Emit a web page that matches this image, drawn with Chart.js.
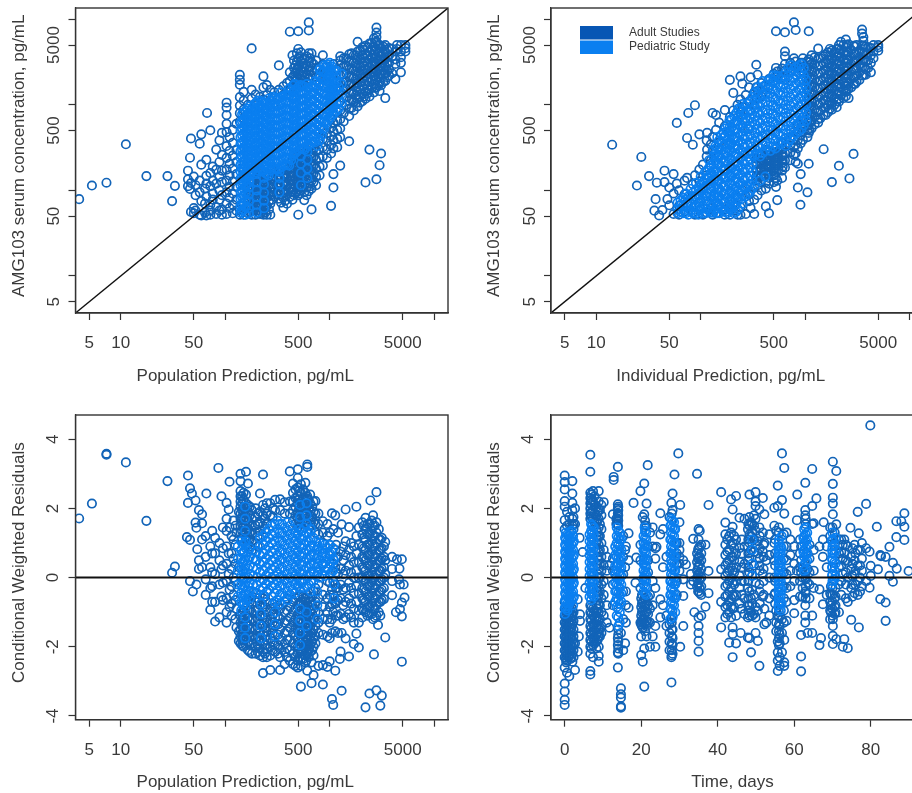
<!DOCTYPE html>
<html>
<head>
<meta charset="utf-8">
<style>
html, body { margin: 0; padding: 0; background: #fff; overflow: hidden; width: 912px; height: 793px; }
canvas { position: absolute; filter: blur(0.4px); }
</style>
<script src="https://cdn.jsdelivr.net/npm/chart.js@4/dist/chart.umd.min.js"></script>
</head>
<body>
<canvas id="c1" width="456" height="396" style="left:0;top:0"></canvas>
<canvas id="c2" width="480" height="396" style="left:456px;top:0"></canvas>
<canvas id="c3" width="456" height="397" style="left:0;top:396px"></canvas>
<canvas id="c4" width="480" height="397" style="left:456px;top:396px"></canvas>
<script>
// each row is [x, y, y, y ...]
const popObsAdult = [
[4,79],[5.3,114],[7.3,123],[11.2,346],[17.6,147],[28,147],[33,113],[31,75],
[44,170,135,112],[46,241,104],[47,404,122,56],[50,145,62,54],[52,115,88,58],[57,352,130,95,52],[59,452,200,75,51],[64,105,70,55],[66,228,148,120,85,51],[67,804],[72,505,160,112,68,58,52],[76,190,130,92,78],[82,300,175,120,64,53],[88,385,215,145,100,78,58],[93,470,260,170,125,88,60,52],[103,1060,930,760,600,480,330,240,175,130,95,70,53],[110,420,290,205,150,110,82,62],[118,510,360,255,180,128,92,68,54],[128,600,300,215,155,110,78,58],
[138,2240,1960,1720,1230,980,800,640,52,60],[150,1420,1120,880,700,52],[165,1000,780,620,54,66,80,100],[179,4570,1500,1180,52,62,75,92,110,130],[195,1320,1000,52,64,78,95,115,140],[215,1240,950,53,66,82,100,120,150],[232,2150,1600,1150,52,60,72,90,110,135],[250,1700,1300,52,66,82,100,125],[270,1500,1130,52,70,88,108,135],[295,1400,1050,85,105,130,160],[326,2890,1500,1200,80,98,120,150],[360,1650,1300,63,82,100,125,155],[390,1800,1450,70,90,115,140,175],[415,7160,2400,1900,1500,84,105,130,160],[440,3800,2100,1650,78,96,120,145,180,220],[470,2900,2400,1900,92,112,135,165,200,245],[500,7250,4500,3500,2800,2250,1800,52,88,108,130,160,195,240],[530,4100,3200,2500,2000,100,125,150,185,225,270],[570,3500,2800,2200,1750,77,95,118,145,175,215,260],[630,9200,7400,4000,3200,2500,2000,98,120,150,185,225,280],[670,4000,3100,2500,60,105,130,160,200,250,310],[740,3300,2700,2100,1700,115,145,180,230,290],[800,2800,2200,1800,150,190,240,300,380],[860,3800,2950,2350,195,250,320,400,500],[940,2800,2200,1750,240,300,380,470,590],[1030,66,1500,1250,1050,270,340,430,540,680],[1085,108,155,3000,310,390,490,620],[1180,2600,1900,320,400,510,650,820],[1260,195,2900,3700,3300,2200,1800,1450,420,530,680,860,1100],[1360,3500,2800,2300,1850,1500,1200,640,800],[1535,375,3900,3200,2600,2100,1700,1380,1120,740,900],[1700,3800,3100,2500,2050,1650,1350,1080,860],[1850,5450,4200,3400,2750,2250,1800,1450,1180,960],[2050,4700,3800,3100,2500,2050,1650,1350,1100],[2200,124,4900,3900,3200,2600,2150,1750,1420,1180],[2400,300,5200,4200,3400,2800,2300,1850,1500,1250],[2650,6000,4800,3900,3200,2600,2150,1750,1400],[2800,135,8000,7000,6200,5500,4500,3600,3000,2450,2000,1600],[3000,197,5000,4100,3400,2800,2300,1850,1450],[3100,270,4600,3700,3050,2500,2050,1700],[3400,1200,5000,4200,3400,2800,2300,1900],[3700,4600,3800,3100,2600,2200],[3950,2340,4500,3700],[4250,2000,3400,3000,4200],[4400,5000,4500],[4800,2400,3100,3600,4200,5000],[5300,4200,4600,5000],
[172,56,68,85,105,125],[185,58,70,85,105,125,150],[205,58,72,90,110,135,165],[223,56,68,85,108,128,160],[242,55,66,80,98,120,145],[262,60,75,92,115,148],[282,78,95,118,145,175],[310,90,112,140,170],[342,72,90,110,135,165],[375,76,95,122,148,185],[425,95,118,148,180,215],[455,88,108,132,160,198,240,1750,2200,2700,3300],[485,98,122,148,182,222,268,2000,2600,3200,4000],[515,92,115,140,172,210,255,300,1850,2350,2900,3700],[550,108,135,165,200,245,292,1900,2450,3050],[600,88,108,132,162,198,240,295,1850,2300,2950,3700],[650,112,140,172,212,260,325,2200,2800,3500],[700,125,155,195,245,305,2400,3000],
[1440,1000,1250,1530,1880,2320,2880,3500],[1620,920,1150,1420,1760,2150,2650,3250,4000],[1780,1050,1300,1610,2000,2480,3050,3800],[1950,1060,1250,1500,1850,2270,2800,3450,4300],[2130,1250,1530,1880,2320,2850,3500,4400],[2320,1370,1680,2080,2550,3100,3800,4700],[2520,1600,1950,2420,2950,3550,4350,5300],[2720,1580,1950,2380,2900,3550,4300,5300],[2900,1700,2150,2650,3250,4000,4900],[3250,1850,2250,2750,3300,4000,4800],[3550,2100,2500,3000,3600,4400]
];
const popObsPed = [
[140,55,66,80,96,115,138,166,200,240,290,350,420,505,610],[150,60,72,87,105,126,152,183,220,265,320,385,465,560,680,820],[162,118,140,170,205,245,295,355,430,520,630,760,900],[176,160,195,235,285,340,410,495,600,720,870],[190,155,185,225,270,330,400,480,580,700,840,1020],[205,170,205,250,300,360,435,525,635,765,925,1120],[222,175,212,255,310,375,450,540,650,790,950,1100],[240,160,195,235,285,345,415,500,605,730,880,1050],[260,150,182,220,265,320,385,465,560,680,820,990,1180],[285,190,230,280,335,405,490,590,710,860,1030,1240],[310,175,212,255,310,375,450,545,655,790,955,1150],[340,185,225,270,325,395,475,575,695,840,1010,1220,1400],[375,200,240,290,350,420,510,615,740,895,1080,1300],[410,195,235,285,345,415,500,600,725,875,1060,1280,1550],[445,255,305,370,445,540,650,785,950,1150,1390,1680],[480,280,340,410,495,600,720,870,1050,1270,1540],[525,310,375,455,550,660,800,965,1170,1410,1700],[575,300,360,435,525,635,765,925,1120,1350,1630],[630,340,410,495,600,720,870,1050,1270,1540],[690,370,445,540,650,785,950,1150,1390,1680],[760,330,400,485,585,705,850,1030,1240,1500,1850],[840,440,530,640,775,935,1130,1365,1650,2000,2450],[920,610,735,890,1075,1300,1570,1900,2300,2800],[1000,700,845,1020,1230,1490,1800,2180,2650,3100],[1100,800,965,1170,1410,1700,2060,2500],[1220,900,1090,1320,1600],
[145,58,70,84,100,120,145,175,210,250,300,360,440,530,640,780],[157,52,64,78,94,112,130,160,192,232,280,335,405,490,590,710,860],[170,125,150,180,218,262,315,380,460,555,670,810,960],[183,170,205,248,298,360,432,522,630,762,920],[198,162,195,237,285,345,418,505,610,735,885,1060],[214,185,225,275,330,395,475,575,695,835,1010],[231,168,200,245,298,358,432,520,628,755,910,1080],[250,155,188,228,275,332,400,482,582,705,850,1020],[272,170,205,250,300,362,438,528,635,770,925,1110],[298,182,220,268,322,390,470,568,685,825,995,1195],[325,180,218,262,318,385,462,558,675,815,982,1185],[357,192,232,280,338,408,492,595,718,868,1045,1260],[392,198,238,288,348,418,505,608,732,885,1070,1290],[428,225,270,328,395,478,575,692,838,1012,1225,1480],[462,268,322,390,470,570,685,828,1000,1210,1465,1750],[502,295,358,432,522,630,760,918,1110,1340,1620],[550,305,368,445,538,648,782,945,1145,1380,1665],[602,320,385,465,562,678,818,988,1195,1445,1750],[660,355,428,518,625,752,910,1100,1330,1610],[725,365,422,512,618,745,900,1090,1315,1590,1900],[800,385,465,562,680,820,990,1198,1445,1750,2120,2600],[880,525,632,765,925,1115,1350,1630,1975,2400,2900],[960,655,790,955,1150,1395,1685,2040,2470,2950],[1050,750,905,1095,1320,1595,1930,2340,2800],[1160,850,1030,1240,1505,1820,2200,2500],
[168,54,62,74,90,108],[200,55,68,84,100,125],[235,62,76,94,118,140],[330,95,118,140,165],[530,115,160,205,250],[610,140,180,230,285],[1300,1050,1350,1750,2300]
];
const indObsAdult = [
[14.2,342],[24.5,114],[27,246],[32,147],[36,58],[37,79],[38,123],[40,51],[43,59],[45,170,125],[48,79],[50,67,108],[55,155,92,53],[59,615,120],[62,100,66,52],[70,130,90,57],[74,410,140,72],[76,804],[84,342,118,55],[88,990,150,85,52],[97,452,175,128,65],[105,200,105,52],[114,385,250,150,85,55],[115,470,300],[125,345,225,62],[130,804,420,290,52],[140,760,510,72,54],[150,620,360,260,85],[170,870,560,430,60,52],[190,1960,720,500,340,52,68],[205,1380,860,400,58],[225,1000,640,52,82],[240,2150,1150,820,64,52],[250,1770,950,100,70],[270,1300,700,53,85,105],[290,1600,1100,520,90,75],[300,2100,850,62],[325,53,1400,1000,110,78],[340,2940,1600,1200,145,170,200,235,130],[350,2250,1450,88,115],[380,1800,1250,150,180,215,260,100],[420,65,1700,1350,155,185,225,125,105],[450,54,2000,1600,165,195,235,280,140,120],[500,2300,1900,150,180,215,260,125],[525,7250,2700,2100,165,195,235,280,140,110],[540,77,2450,195,225,265,130],[600,2650,2100,170,210,250,300,360,140],[640,7050,4200,3700,3000,2500,2000,185,225,275,330,400],[720,3100,2500,225,275,335,410],[780,9200,3500,2800,260,320,390,480],[810,7500,3200,2450,215,270,340],[850,108,205,2800,310,390,480,590],[905,155,2700,3100,355,440,540,660],[950,3500,3100,2500,2000,390,480,590,720],[900,68],[1050,95,3200,2700,2200,1800,1480,420,510,620,760],[1080,7250,205,3400,2850,2350,1900,1550,1250,1020,470,570,700,860],[1150,3800,3000,2450,2000,1650,1320,1080,530,640,780,950],[1330,4550,3500,2850,2300,1900,1550,1250,1000,820,620,680],[1500,3700,3050,2500,2050,1680,1380,1120,920,760,303],[1650,4100,3350,2750,2250,1850,1520,1230,1000,820],[1800,125,4300,3500,2850,2350,1920,1570,1280,1040,880],[2000,4500,3650,3000,2450,2000,1640,1340,1100,940],[2100,194,5000,4000,3250,2650,2150,1750,1430,1180],[2200,5450,4400,3600,2900,2350,1950,1600,1300],[2450,5800,1260,4700,3800,3100,2500,2050,1680,1420],[2600,1200,5100,4100,3350,2700,2200,1800,1550],[2650,138],[2900,267,4900,4000,3200,2600,2100,1750],[3100,1850,5000,4100,3300,2700,2200],[3500,7600,6800,4900,4100,3300,2750,2200],[3600,6200,5600],[3800,4800,3900,3200,2600,2250],[4250,2400,4600,3800,3100],[4500,5000,4200,3500],[5000,5000,4300,4700],
[345,150,175,205,235,268],[375,145,170,200,232],[405,150,178,208,245],[435,160,188,220,258,300],[470,165,195,228,268],[500,170,200,235,275],[555,175,205,240,285],[610,190,222,262,310],
[1100,500,620,760,930,1140,1400,1720,2100,2600,3150],[1230,590,720,880,1080,1320,1620,1980,2450,3000,3600],[1400,700,860,1050,1280,1570,1920,2350,2900,3500],[1570,760,930,1140,1400,1710,2100,2580,3150,3900],[1720,900,1100,1350,1650,2020,2480,3050,3750,4500],[1900,1000,1220,1500,1820,2230,2750,3350,4100],[2100,1090,1330,1630,2000,2450,3000,3650,4500],[2320,1200,1480,1820,2220,2720,3350,4100,5000],[2500,1500,1860,2280,2800,3400,4200,5000],[2750,1600,2000,2450,3000,3650,4400],[3000,1750,2150,2650,3250,3950,4800],[3300,1950,2400,2950,3600,4300],[3650,2250,2750,3350,4000,4900],[4000,2700,3300,4000,4700]
];
const indObsPed = [
[60,60,72,54],[68,66,54,82],[76,58,70,85,52],[85,64,78,95,54],[95,58,72,88,108,52],[105,66,82,100,125,54],[115,60,75,92,115,140,170],[125,55,68,85,105,130,160,195],[138,60,76,94,118,145,180,225,270,330],[150,54,68,85,105,130,160,200,245,300,385],[165,58,72,90,112,140,175,215,265,330,410,470],[180,54,66,82,102,128,160,200,250,310,385,480,580],[198,60,76,95,118,148,185,230,285,355,440,550,680],[218,56,70,88,110,138,172,215,270,335,420,520,650,800],[240,78,98,122,152,190,238,295,370,460,575,720,900],[265,85,106,132,165,205,258,320,400,500,625,780,970],[295,95,118,148,185,232,290,362,450,565,705,880,1100],[330,115,255,300,375,470,585,730,910,1140,1400],[370,130,250,315,395,490,615,765,955,1190,1500],[415,145,290,360,450,560,700,875,1090,1360,1700],[465,290,360,450,560,700,875,1090,1360,1700,2000],[520,310,385,480,600,750,935,1170,1460,1820,2200],[580,345,430,540,670,835,1040,1300,1625,2000],[650,330,410,510,640,800,1000,1250,1560,1950,2400],[730,400,500,625,780,975,1220,1520,1900,2400,2900],[820,470,585,730,910,1140,1420,1780,2200,2750],[920,520,650,810,1010,1260,1570,1960,2450,3000],[1020,650,810,1010,1260,1570,1960],
[64,56,68,76],[72,54,64,78,92],[80,58,70,86,104],[90,54,66,82,102,122],[100,60,76,96,118,145],[110,54,70,88,110,135,165],[120,58,72,94,118,148,185,225],[132,55,68,86,108,132,165,205,250,300],[144,54,66,84,105,130,165,205,255,320,420],[158,60,78,96,120,150,190,235,295,365,450],[172,56,72,90,115,142,178,222,280,350,435,530],[188,60,74,92,118,145,182,228,285,350,435,540,660],[208,54,66,82,102,128,160,200,250,312,390,490,610,740],[228,60,78,98,125,155,195,245,305,380,475,590,730,900],[252,70,88,112,140,175,220,275,345,430,535,670,840,1020],[280,90,112,140,175,218,272,340,425,530,660,825,1030],[312,105,132,165,205,260,325,405,505,630,790,985,1230],[350,268,335,420,525,655,820,1025,1280,1600],[392,272,340,425,530,665,830,1040,1300,1620,1900],[440,325,405,505,630,790,985,1230,1530,1900],[492,325,405,510,635,790,985,1230,1540,1920,2200],[550,365,455,570,710,890,1110,1385,1730,2150],[615,370,460,575,720,900,1125,1400,1750,2200],[690,365,455,570,715,895,1115,1390,1740,2170,2700],[775,435,545,680,850,1060,1325,1660,2070,2600],[870,490,615,770,960,1200,1500,1870,2340,2850],[970,580,725,905,1130,1410,1760,2200,2700]
];
const popResAdult = [
[4,1.71],[5.3,2.14],[7.3,3.58,3.55],[11.2,3.33],[17.6,1.64],[28,2.79],[31,.14],[33,.32],[43,1.17],[44,2.95,2.16],[46,2.58,1.09,-.1],[48,2.43],[49,-.4],[52,2.23,1.59],[53,1.44,-.2],[54,.82],[56,1.95,.5,.25],[60,1.83,1.57,1.1,.3],[65,-.05,-.5,.6,1.2],[66,2.43],[72,-.93,.9,.3,-.3],[80,-1.27,-.7,.1,.7,1.15],[86,3.17],[88,-1.15,-.2,.5,1],[92,2.35,.25,-.55],[103,2.16,1.7,1.35,.9,.4,-.1,-.6,-1,-1.3],[108,1.97,.7,.1],[110,2.77,1.45,-.35,-.85],[120,1.65,1.1,.55,0,-.5],[128,-1.44,-.9,1.3],[135,-1.83,-1.55,1.9,.3],
[140,3,2.79,2.5,2.35,2.2,2.05,1.85,1.7,1.5,1.3,-1.1,-1.3,-1.5,-1.7,-1.9],[150,2.45,2.25,2.05,1.85,1.65,1.45,1.25,-.95,-1.2,-1.4,-1.6,-1.8,-2],[158,3.06,2.4,2.15,1.9,1.7,1.5,1.3,1.1,-.85,-1.05,-1.3,-1.5,-1.7,-1.95],[165,2.72,2.1,1.85,1.6,1.4,1.2,.95,-.65,-.95,-1.15,-1.4,-1.65,-1.85,-2.1],[180,1.95,1.7,1.5,1.25,1.05,.8,-.55,-.75,-1,-1.2,-1.45,-1.7,-1.9,-2.2],[195,2,1.75,1.5,1.3,1,.75,.5,-.45,-.7,-.95,-1.25,-1.5,-1.75,-2,-2.2],[215,2.43,1.9,1.6,1.35,-.5,-.8,-1.1,-1.35,-1.6,-1.85,-2.05,-2.25],[230,2.98,2.1,1.8,1.5,-.6,-.85,-1.15,-1.4,-1.65,-1.9,-2.15,-2.3,-2.76],[250,2.15,1.85,1.55,-.4,-.7,-1,-1.3,-1.55,-1.8,-2.05,-2.3],[270,2.15,1.8,-.9,-1.2,-1.45,-1.75,-2,-2.25,-2.67],[300,2.25,1.95,-.85,-1.15,-1.4,-1.7,-1.95,-2.15],[335,2.26,1.95,-.9,-1.2,-1.5,-1.8,-2.05,-2.3,-2.67],[370,2.18,1.85,-.7,-1,-1.3,-1.6,-1.9,-2.15,-2.5],[415,3.07,2.2,1.85,-.5,-.85,-1.15,-1.45,-1.8,-2.1,-2.4],[445,2.72,2.45,2.2,1.95,1.65,-.7,-1,-1.3,-1.6,-1.9,-2.2,-2.5],[495,3.13,2.88,2.6,2.35,2.15,1.9,1.7,1.45,-.55,-.8,-1.05,-1.3,-1.55,-1.75,-2,-2.2,-2.4,-2.6],[530,2.7,2.45,2.2,2,1.75,1.55,-.4,-.7,-.95,-1.2,-1.45,-1.7,-1.95,-2.15,-2.35,-2.55,-3.15],[585,2.74,2.45,2.25,2,1.8,1.6,-.6,-.85,-1.1,-1.35,-1.6,-1.85,-2.05,-2.25,-2.45],[610,3.2,3.27,2.35,2.1,1.85,-.5,-.8,-1.05,-1.3,-1.55,-1.8,-2,-2.2,-2.69],[650,2.4,2.15,1.9,1.65,-.7,-.95,-1.2,-1.45,-1.7,-1.95,-2.15],[700,2.2,1.9,1.6,-.4,-.9,-1.2,-1.5,-1.75,-2,-2.25,-2.82],[670,-3.05,-2.45],[730,2.21,1.85,1.55,1.3,-.3,-.7,-1,-1.4,-1.7,-1.9],[780,1.85,1.55,1.25,-.2,-.6,-1,-1.3,-1.6,-2.55],[860,1.63,1.3,1,.7,.4,-.5,-.85,-1.2,-1.65,-2.53,-3.09],[950,1.55,1.2,-.1,-.6,-1,-1.2,-1.7,-2.58],[1000,1.3,.95,-.15,-.5,-.85,-1.3,-1.75,-2.42],[1050,1.86,-.35,-.75,-1.2,-1.6,-3.51],[1080,-3.68,1.4,.4,-.1,-.5,-1],[1130,1.8,.8,.3,-.2,-.75,-1.55,-2.69],[1200,1.3,.6,.1,-.3,-.65,-1.1,-1.6],[1270,.75,.25,-.2,-.6,-1.05,-2.14],[1300,1.54,-3.27,-1.6],[1250,-2.35],[1420,1.97,1.05,.65,.2,-.3,-.7,-1.15,-1.76],[1530,1.46,.8,.35,-.15,-.6,-1.05,-2.28],[1700,.9,.45,0,-.45,-.9,-1.3,-1.92],[1800,2.05,1.2,.7,.2,-.25,-.7,-1.62],[1900,1.45,.95,.45,0,-.45,-.95,-1.3,-2.02],[2050,1.6,1.25,.9,.6,.3,0,-.3,-.6,-.9,-1.15],[2200,1.73,1.4,1.1,.8,.5,.2,-.1,-.4,-.7,-1,-3.75],[2400,-3.35,1.55,1.25,.95,.65,.35,.05,-.25,-.55,-.85,-1.05],[2450,2.23],[2600,1.8,1.5,1.2,.9,.6,.3,0,-.3,-.6,-.9,-1.2],[2650,-2.22],[2800,2.47,1.6,1.3,1,.7,.4,.1,-.2,-.5,-.8,-1.1,-3.26],[2900,-1.37],[3050,-1.1,1.1,.8,.5,.2,-.1,-.4,-.7,-3.7],[3150,-3.41],[3300,-.62,.9,.6,.3,0,-.3],[3400,1.03,-1.73,.5,.1],[3950,-.51,.6,.25,-.1],[4300,-1],[4400,.53],[4600,-.05],[4650,.26],[4700,-.91,-.2],[4900,.53,-.72,-1.12,-2.43],[5100,-.2],[5200,-.58],
[145,2.35,2.15,1.95,1.75,1.55,1.35,1.15,-1,-1.2,-1.4,-1.6,-1.8,-1.95],[172,2.05,1.8,1.55,1.3,1.1,.9,-.7,-.95,-1.25,-1.5,-1.7,-1.95,-2.15],[205,1.85,1.55,1.2,.9,-.6,-.9,-1.2,-1.45,-1.7,-1.95,-2.15],[240,2,1.7,1.4,-.55,-.85,-1.15,-1.45,-1.7,-1.95,-2.2],[285,2,1.75,-.75,-1.05,-1.3,-1.6,-1.85,-2.1],[320,-.8,-1.1,-1.35,-1.65,-1.95,-2.2],[390,-.6,-.95,-1.25,-1.55,-1.8,-2.05,-2.3],[470,2.55,2.3,2.05,1.8,1.55,-.6,-.9,-1.2,-1.45,-1.7,-2,-2.3,-2.55],[510,2.5,2.25,2.05,1.8,1.6,-.5,-.75,-1.05,-1.3,-1.55,-1.85,-2.05,-2.3],[555,2.55,2.3,2.1,1.85,1.65,-.55,-.8,-1.05,-1.3,-1.6,-1.85,-2.1,-2.35],[595,2.3,2.05,1.85,1.6,-.7,-.95,-1.2,-1.45,-1.7,-1.95,-2.15,-2.4],[630,2.25,2,1.75,1.5,-.6,-.85,-1.1,-1.4,-1.65,-1.9,-2.1,-2.3],[680,2.05,1.75,1.5,-.55,-.8,-1.05,-1.3,-1.6,-1.85,-2.1],
[2120,1.5,1.15,.85,.55,.25,-.05,-.35,-.65,-.95],[2300,1.55,1.25,.95,.65,.35,.05,-.25,-.55,-.85,-1.1],[2520,1.65,1.35,1.05,.75,.45,.15,-.15,-.45,-.75,-1.05],[2700,1.5,1.2,.9,.6,.3,0,-.3,-.6,-.9,-1.15],[2950,1.4,1.1,.8,.5,.2,-.1,-.4,-.7,-1],[3150,1.15,.85,.55,.25,-.05,-.35,-.65],[1150,.95,.6,.15,-.3,-.7,-1.1],[1350,.9,.5,.1,-.35,-.8,-1.2],[1600,1,.6,.15,-.3,-.75,-1.15],[95,1.45,.85,.35,-.15,-.65],[115,1.2,.7,.25,-.25,-.75,-1.1],[75,1.35,.7,.15,-.25,-.7],[125,1.5,.95,.4,-.1,-.65,-1.2]
];
const popResPed = [
[132,.9,.55,.2,-.2,-.55],[142,1.05,.8,.55,.3,.05,-.2,-.45,-.7,-.95],[152,1,.75,.5,.25,0,-.25,-.5,-.75],[166,.75,.5,.25,0,-.25,-.5],[185,.55,.3,.05,-.2,-.4],[215,1.15,.9,.65,.4,.15,-.1,-.35],[245,1.3,1.05,.8,.55,.3,.05,-.2],[280,1.5,1.25,1,.75,.5,.25,0,-.25,-.55],[315,1.65,1.4,1.15,.9,.65,.4,.15,-.1,-.35,-.65],[350,1.55,1.3,1.05,.8,.55,.3,.05,-.2,-.45],[395,1.6,1.35,1.1,.85,.6,.35,.1,-.15,-.4,-.65],[440,1.4,1.15,.9,.65,.4,.15,-.1,-.35],[490,1.25,1,.75,.5,.25,0,-.25],[540,1.35,1.1,.85,.6,.35,.1,-.15],[600,1.55,1.3,1.05,.8,.55,.3,.05,-.25],[660,1.4,1.15,.9,.65,.4,.15,-.1,-.4],[740,1.05,.8,.55,.3,.05],[800,1,.75,.5,.25,0],[900,.95,.7,.45,.2,.05],[1000,.95,.7,.4,.1],[1080,.85,.55,.2],
[147,.95,.7,.45,.2,-.05,-.3,-.55,-.8],[157,1.05,.85,.6,.35,.1,-.15,-.4,-.65,-.85],[172,.85,.6,.35,.1,-.15,-.4,-.6],[200,.75,.5,.25,0,-.2,-.45],[230,1.2,.95,.7,.45,.2,-.05,-.3,-.5],[262,1.4,1.15,.9,.65,.4,.15,-.1,-.35],[298,1.55,1.3,1.05,.8,.55,.3,.05,-.2,-.45,-.7],[332,1.55,1.3,1.05,.75,.5,.25,0,-.25,-.5,-.75],[372,1.45,1.2,.95,.7,.45,.2,-.05,-.3,-.55],[418,1.5,1.25,1,.75,.5,.25,0,-.25,-.5],[465,1.3,1.05,.8,.55,.3,.05,-.2,-.45],[515,1.4,1.15,.9,.65,.4,.15,-.1,-.3],[570,1.45,1.2,.95,.7,.45,.2,-.05,-.3],[630,1.3,1.05,.8,.55,.3,.05,-.2],[700,1.15,.9,.65,.4,.15,-.1],[770,.9,.65,.4,.15],[850,.85,.6,.35,.1],[950,.85,.55,.25],[1040,.75,.45,.15],
[155,-1.15,-1.45,-1.75,1.35,1.7,2.05],[220,-.75,-1.05,-1.4,-1.75],[300,-1,-1.35,-1.7],[520,-.9,-1.25,-1.6,-1.95,1.75,2.1],[600,-1,-1.4,1.8,2.15],[760,-.4,-.8,-1.2],[1100,.5,-.2,-.6]
];
const timeResAdult = [
[0,2.95,2.76,2.55,2.21,2.05,1.66,1.4,-.7,-.9,-1.1,-1.3,-1.5,-1.7,-1.9,-2.1,-2.3,-2.6,-3.06,-3.29,-3.53,-3.68],[.6,1.9,1.5,-1,-1.2,-1.4,-1.6,-1.8,-2,-2.2,-2.4,-2.75],[1.2,1.75,1.55,-.8,-1.05,-1.25,-1.45,-1.65,-1.85,-2.05,-2.25,-2.85],[2,2.79,2.43,2.16,1.95,1.7,1.5,-.9,-1.1,-1.35,-1.6,-1.8,-2,-2.2,-2.43],[2.7,2,1.55,-1.9,-2.67],[3.4,-.63,-2.14],[3.7,-1.7],[3.9,1.15],[4,-1.06,-1.25],[4.7,.74],[5.4,-.3],
[6.7,3.55,3.06,2.45,2.3,2.15,2,1.85,1.7,-.8,-1,-1.2,-1.4,-1.6,-1.8,-2,-2.2,-2.7,-2.8],[7.4,2.5,2.2,1.95,1.7,-.9,-1.1,-1.35,-1.55,-1.75,-1.95,-2.3],[8.3,2.05,1.8,1.6,1.4,1.2,1,-.3,-.55,-.8,-1,-1.25,-1.45,-1.65,-1.85,-2.05],[8.9,2.5,2.2,1.95,1.7,1.45,1.2,.95,.75,.5,.25,0,-.25,-.5,-.75,-1,-1.25,-1.5,-1.7,-2,-2.26,-2.43],[9.6,2.1,1.8,1.4,1,.6,.2,-.2,-.6,-1,-1.4,-1.6],[10.2,2.18,.8,.35,-.1,-.5,-1.1],[11,.6,.2,-.8,-1.3],[11.7,-1.45,.35],
[12.6,1.83,.55,.2,-.2,-.8],[12.8,2.91,2.82],[13.9,3.2,2.12,2,1.85,1.7,1.55,-2.16,-2.6,-1.75,-1.95],[14.7,-3.2,-3.37,-3.47,-3.72,-3.76,-1.6],[15.3,1.2,.6,.1,-.4,-1.2,-2.1],[15.8,-1.9,.8,.3],[16,-1.3,-.8,-.4,.9],[16.7,1.28,.5,-.87],[18,2.16],[18.7,.58],[18.5,-.15],[19.8,2.5,.95,.5,-.3,-1.3],
[20,-2.24,-1.7,-1.35,-1.1,-.85,-.6],[20.4,1.75,-.7,-.95,-1.2,-1.45,-2.43],[20.8,2.72,1.83,-3.15,-.6,-.85,-1.1,-1.3,-2.05],[21.4,2.14,1.5,-.75,-1,-1.25,-1.4,-1.7],[21.7,3.25],[22.3,1.3,-.5,-.9,-1.3,-2],[23,1.45,.9,-.1,-.8,-1.7],[23.7,-2,.85,.55,-.3,-1.4],[24,.89],[25,1.86,1.25,-.63,-1.15],[25.7,1.4,.3,-.8],[26.6,.6,-1.4,-1.1],
[27.4,1.75,-1.35,-1.6,-1.85,-2.1],[27.9,-3.03,2.16,-1.2,-2.3],[28.2,2.43,1.95,-1.1,-1.5,-1.75,-1.95,-2.2],[28.7,2.98],[29.7,3.59],[29.3,1,.7,.4,-.1,-.5],[30,1.6,1,.8,.6,.4,.2],[30.2,2.1,-2],[31,-.53,-1.4,.5,-.05],[31.7,.38],[33,.1,-.2],[33.6,1.12,-.1],[33.9,-1],[34.6,3,.7,.45,.2,0,-.25],[35,1.4,1.1,.85,.6,.35,.1,-.15,-.4,-1.15,-1.4,-1.6,-1.83,-2.14],[35.7,.95,.7,.5,.25,0,-.25,-.5,-1.1],[36.8,-.84,.95],[37.6,2.1,-.45,.19],
[40.9,2.47,-1.44,-.7,.24],[42,1.59,1.25,.95,.65,.35,.05,-.25,-.55,-.85,-1.15],[43,1.2,.8,.5,.2,-.1,-.4,-.7,-1,-1.88],[43.5,2.26],[43.9,1.97,1.47,-2.3,-1.44,-1.63,-.9,-.5,-.15,.2,.6,1],[44.8,2.36,1.1,.7,.3,-.1,-.5,-1.1,-1.9],[45.7,1.73,.85,.45,.05,-.3,-.75],[46,-1.6],[47,1.7,.9,.4,-.1,-.6,-1.05],[47.9,-1.73,1.4,.9,.5,.1,-.3,-.8,-1.15],[48.3,2.4,1.75,1.5,1.25,1,.55,.15,-.4,-.8,-1.1,-1.75],[48.7,-2.16,1.6,1.2,.8,-.6,-1],[49.9,2.47,2.2,2.07,1.7,1.35,.95,-.15,-.85,-1.15,-1.6],[50.5,-1.83,1.05,.7,-.95],[50.9,1.97,-2.55,1.45,.35,-.2],[51.8,2.3,1.3,.75,.1,-.55],[52.2,1.83,1,-1.35,-.9],[52.7,-1.3,.5],[53.5,1.25,.65,0,-.6,-1.1],[54.8,2.02,1.5,1,.5,0,-.5],
[55.3,1.35,-.95,-1.3,-1.55],[55.7,2.66,2.07,-2.16,-2.4,-2.7,-1.85,-1.1],[56.2,-1.4,-1.65,-1.9,-2.3,-2.55],[56.8,3.59,2.24,-1.2,-2.16,-1.6],[57.4,3.17,1.85,-2.45,-2.55,-1.8],[58,1.3,.9,.5,.1,-.3,-.7,-1.25],[59,1.1,.65,.2,-.25],[60,-1.03,.9,.4,-.1,-.65],[60.7,1.66,.2],[60.8,2.4],[61.5,1.1,.7,.3,-.1,-.55],[61.8,-2.28,-2.71,-1.66,.9,.5,.15],[62.9,2.74,1.95,1.8,-.4,0,.4,-1.1,-1.3,-.8],[63.5,-1.6,.7,.25,-.15],[64.7,3.14,2.07,-1.6,-1.1,1.55],[65.1,1.57,.8,.2,-.3],[65.8,2.29],[66.6,-1.95,.9,-.34],[67,-1.75],[67.5,-.77,1.1,.6],[67.7,1.6],[68.5,.9,.3,-.5],
[69.4,1.45,1.2,-.45,-.7,-.95,-1.2],[70.1,3.35,2.71,2.31,2.14,1.83,-1.4,-1.2,-1.68,-1.92],[70.6,1.3,1,-.6,-.85,-1.05],[71,3.08,1.54,-1.78],[71.7,1.1,.7,.3,-.2,-1],[72.7,-2,.95,.55,.1],[73.1,-1.78,1.1,.7],[74,-2.04,.9,.45,0,-.7],[74.7,1.44],[74.9,-1.22,.6,.25,-.3],[75.8,.95,.5,.1,-.45],[76.6,1.9,.8,.35,-.1,-.5],[76.9,1.28,-1.44],[77.7,1,.55,.2,-.25],[78.8,2.13,.85,-.1],[79.7,-.29,.75],[79.9,4.4],[80,.34,.05],[81.6,1.47],[81.9,.24],[82.5,-.62,.65],[82.7,.62],[83.9,-.72,-1.25,.6],[84.9,.89,.05],[85.8,.43,-.12],[86.7,1.17,1.63],[86.8,.26],[88,1.63],[88.8,1.86,1.47,1.09],[89.9,.19],
[.3,-1.15,-1.35,-1.55,-1.75,-1.95,-2.15,-2.35],[1,-1.1,-1.3,-1.5,-1.7,-1.9,-2.1,-2.3],[1.7,-.85,-1.05,-1.25,-1.45,-1.7,-1.9,-2.1,-2.3],[7,2.4,2.25,2.1,1.9,1.75,-.85,-1.05,-1.25,-1.45,-1.65,-1.85,-2.05],[7.8,2.35,2.1,1.85,1.6,-.95,-1.15,-1.35,-1.55,-1.75,-1.9],[8.6,1.9,1.65,1.3,1.1,.85,.6,.35,.1,-.15,-.4,-.65,-.9,-1.15,-1.35,-1.6,-1.8],[9.2,1.95,1.55,1.2,.8,.4,0,-.4,-.8,-1.2,-1.5,-1.7],[14,2.05,1.95,1.8,1.65,1.5,-1.5,-1.65,-1.85,-2.05,-2.2],[13.5,1.7,1.55],[21,1.65,1.5,-.6,-.8,-1,-1.2,-1.35,-1.55],[20.2,-.5,-.75,-1,-1.25,-1.4],[21.8,-.55,-.8,-1.05,-1.3,.9,.5,.15],[28,-1.3,-1.5,-1.7,-1.9,-2.1,-2.25,1.85],[35.3,.9,.6,.4,.15,-.05,-.3,-.45,1.35],[34.9,.8,.55,.3,.05,-.2,-.4],[42.5,1.1,.75,.45,.15,-.2,-.5,-.8,-1.05],[43.5,1.3,.95,.6,.3,0,-.3,-.6,-.85,-1.15],[44.3,1.2,.85,.5,.15,-.2,-.55,-.85],[46.3,1.1,.7,.3,-.1,-.5,-.9],[48,1.55,1.1,.7,.3,-.1,-.6,-.95],[49,1.55,1.3,.05,-.35,-.75,-1.1],[49.5,1.8,1.5,1.1,.75,.35,-.5,-1.05],[51,1.2,.85,.55,.2,-.4,-.75],[52,.95,.6,.25,-.1,-.5],[56,1.45,1.3,-1,-1.15,-1.35,-1.55,-1.75,-1.95],[55,1.1,.7,.35,-.1,-.45,-.75],[57.3,1.25,.9,.55,.15,-.25,-.6,-.95,-1.3],[63,1.7,1.55,.15,-.05,-.25,-.45,-.6],[62.2,.25,0,-.3,-.55],[64,.95,.55,.15,-.2,-.6],[70,1.45,-.3,-.5,-.7,-.9,-1.1],[69.6,-.25,-.5,-.8,-1],[70.8,-.3,-.55,-.8,-1],[72.3,1.1,.75,.35,-.1,-.5],[73.5,.95,.5,.15,-.2,-.6],[75.2,.85,.4,.05,-.2,-.55],[76,.7,.2,-.2],[77.2,.8,.35,0,-.4],
[.4,-.95,-1.25,-1.45,-1.65,-1.85,-2.05,-2.25,-2.45],[1.5,-.95,-1.15,-1.35,-1.55,-1.75,-1.95,-2.15,-2.35],[2.3,-1,-1.25,-1.5,-1.7,-1.9,-2.1,-2.3,1.75,1.55,1.4]
];
const timeResPed = [
[.3,1.3,1.1,.9,.7,.5,.3,.1,-.1,-.3,-.5,-.7,-.9],[1,1.2,1,.8,.6,.4,.2,0,-.2,-.4,-.6,-.8],[1.8,1.35,1.15,.95,.75,.55,.35,.15,-.05,-.25,-.45,-.65],[2.4,1.05,.65,.25,-.15,-.55],[6.9,1.55,1.35,1.15,.95,.75,.55,.35,.15,-.05,-.25,-.45,-.65],[7.6,1.45,1.25,1.05,.85,.65,.45,.25,.05,-.15,-.35,-.55],[13.6,1.45,1.2,1,.8,.6,.4,.2,0,-.2,-.4,-.6,-.85,-1.1],[14.4,1.3,1.1,.9,.7,.5,.3,.1,-.1,-.3,-.5,-.75,-1,-1.3],[20.6,1.2,1,.8,.6,.4,.2,0,-.2,-.4],[21.3,1.3,1.1,.9,.7,.5,.3,.1,-.1,-.3,-.5],[27.8,1.7,1.5,1.3,1.1,.9,.7,.5,.3,.1,-.1,-.3,-.5,-.7,-.9],[28.6,1.6,1.4,1.2,1,.8,.6,.4,.2,0,-.2,-.4,-.6,-.8],[49,1.1,.8,.4,.05],[55.9,1,.8,.6,.4,.2,0,-.2,-.4,-.6,-.8],[56.5,.9,.7,.5,.3,.1,-.1,-.3,-.5,-.7,-.95],[62.6,1.4,1.2,1,.8,.6,.2],[63.4,1.3,1.1,.9,.7,.5],[69.9,1.05,.8,.55,.3,.05,-.2],[70.5,.95,.7,.45,.2,-.05],
[.7,1.25,1.05,.85,.65,.45,.25,.05,-.15,-.35,-.55,-.75,-.95],[1.4,1.3,1.1,.9,.7,.5,.3,.1,-.1,-.3,-.5,-.7],[7.2,1.5,1.3,1.1,.9,.7,.5,.3,.1,-.1,-.3,-.5],[6.5,1.25,1.05,.85,.65,.45,.25,.05,-.15,-.35,-.55],[14,1.35,1.15,.95,.75,.55,.35,.15,-.05,-.25,-.45,-.65,-.9,-1.15,-1.4],[13.2,.9,.65,.35,.1,-.15,-.4,-.7],[14.8,1.1,.8,.55,.3,.05,-.2,-.45,-.7],[21,1.35,1.15,.95,.75,.55,.35,.15,-.05,-.25,-.45],[20.9,1.45,.85,.45,.05],[28.2,1.65,1.45,1.25,1.05,.85,.65,.45,.25,.05,-.15,-.35,-.55,-.75,-.95,-1.15],[27.6,1.5,1.1,.7,.3,-.1,-.5,-.9,-1.2],[28.9,1.4,1,.6,.2,-.2,-.6,-1],[56,1.1,.9,.7,.5,.3,.1,-.1,-.3,-.5,-.7,-.9],[56.7,1.2,.85,.45,.05,-.35,-.75],[63,1.45,1.25,1.05,.85,.65,.45,.25],[62.4,1.15,.75,.35],[70,1.3,1.1,.9,.7,.5,.3,.1,-.1],[70.8,1.15,.8,.4,.05],
[.1,1.15,.95,.75,.55,.35,.15,-.05,-.25,-.45,-.65,-.85,-1.05],[2.2,1.2,1,.8,.6,.4,.2,0,-.2,-.4,-.6,-.8]
];
const logTicks = [5, 10, 50, 100, 500, 1000, 5000, 10000];
const logLabels = [5, 10, 50, 500, 5000];
const logLabelsY = [5, 50, 500, 5000];
const resTicks = [-4, -2, 0, 2, 4];
const timeTicks = [0, 20, 40, 60, 80];
const adultName = 'Adult Studies';
const pedName = 'Pediatric Study';
const adultColor = '#1264b8';
const pedColor = '#0a7ff0';
const textColor = '#3a3a3a';
const logMin = 3.69, logMax = 13550;

const toPoints = rows => rows.flatMap(([x, ...ys]) => ys.map(y => ({ x, y })));

function pointSet(label, rows, color, order) {
    return {
        label: label,
        data: toPoints(rows),
        backgroundColor: color,
        borderColor: color,
        pointBackgroundColor: 'transparent',
        pointBorderColor: color,
        pointBorderWidth: 1.7,
        pointRadius: 4.2,
        showLine: false,
        order: order
    };
}

function refLine(points, width) {
    return { type: 'line', label: '', data: points, borderColor: '#111', borderWidth: width, pointRadius: 0, order: 0 };
}

// R style box round the plot region, legend moved inside it
const boxPlugin = {
    id: 'box',
    beforeDraw(chart) {
        if (chart.legend && chart.legend.options.display) {
            chart.legend.left = chart.chartArea.left + 28;
            chart.legend.top = chart.chartArea.top + 16.9;
        }
    },
    afterDraw(chart) {
        const a = chart.chartArea, ctx = chart.ctx;
        ctx.save();
        ctx.strokeStyle = '#333';
        ctx.lineWidth = 1.4;
        ctx.strokeRect(a.left, a.top, a.right - a.left, a.bottom - a.top);
        ctx.restore();
    }
};

function makePanel(id, p) {
    const tickFont = { family: '"Liberation Sans", Arial, sans-serif', size: 17 };
    const axisCommon = {
        grid: { drawOnChartArea: false, color: '#333', tickLength: 7, tickWidth: 1.2 },
        border: { color: '#333', width: 1.2 }
    };
    new Chart(document.getElementById(id).getContext('2d'), {
        type: 'scatter',
        data: { datasets: p.datasets },
        options: {
            responsive: false,
            animation: false,
            layout: { padding: { left: 0, top: p.top, right: p.right, bottom: 0 } },
            plugins: {
                tooltip: { enabled: false },
                legend: {
                    display: !!p.legend,
                    position: 'chartArea',
                    align: 'start',
                    labels: {
                        boxWidth: 33, boxHeight: 13.5, padding: 1, color: textColor,
                        font: { family: '"Liberation Sans", Arial, sans-serif', size: 12 },
                        generateLabels: () => [
                            { text: '\u00a0\u00a0\u00a0' + adultName, fillStyle: '#0756b4', strokeStyle: '#0756b4', lineWidth: 0, fontColor: textColor },
                            { text: '\u00a0\u00a0\u00a0' + pedName, fillStyle: pedColor, strokeStyle: pedColor, lineWidth: 0, fontColor: textColor }
                        ]
                    }
                }
            },
            scales: {
                x: Object.assign({}, axisCommon, {
                    type: p.xType, min: p.xMin, max: p.xMax,
                    afterFit(s) { s.height = p.xHeight; },
                    afterBuildTicks(s) { s.ticks = p.xTicks.map(value => ({ value })); },
                    ticks: {
                        autoSkip: false, maxRotation: 0, padding: 13, color: textColor, font: tickFont,
                        callback: v => (p.xLabels.includes(v) ? String(v) : '')
                    },
                    // trailing blanks push the centred title left, as in the figure
                    title: {
                        display: true, text: p.xTitle + '\u00a0'.repeat(p.xShift), color: textColor, font: tickFont,
                        padding: { top: 0, bottom: p.xTitlePad }
                    }
                }),
                y: Object.assign({}, axisCommon, {
                    type: p.yType, min: p.yMin, max: p.yMax,
                    afterFit(s) { s.width = p.yWidth; },
                    afterBuildTicks(s) { s.ticks = p.yTicks.map(value => ({ value })); },
                    ticks: {
                        autoSkip: false, minRotation: 90, maxRotation: 90, crossAlign: 'center', padding: p.yTickPad,
                        color: textColor, font: tickFont,
                        callback: v => (p.yLabels.includes(v) ? String(v) : '')
                    },
                    title: {
                        display: true, text: '\u00a0'.repeat(2) + p.yTitle, color: textColor, font: tickFont,
                        padding: { top: p.yTitlePad, bottom: 0 }
                    }
                })
            }
        },
        plugins: [boxPlugin]
    });
}

const logX = { xType: 'logarithmic', xMin: logMin, xMax: logMax, xTicks: logTicks, xLabels: logLabels };
const logY = { yType: 'logarithmic', yMin: logMin, yMax: logMax, yTicks: logTicks, yLabels: logLabelsY, yTickPad: -5 };
const resY = { yType: 'linear', yMin: -4.107, yMax: 4.7, yTicks: resTicks, yLabels: resTicks, yTickPad: 8, yTitle: 'Conditional Weighted Residuals' };
const leftCol = { yWidth: 75.5, right: 8, yTitlePad: 9 };
const rightCol = { yWidth: 95, right: 12.5, yTitlePad: 28.2 };
const topRow = { top: 8, xHeight: 83, xTitlePad: 9.1 };
const botRow = { top: 19, xHeight: 73.3, xTitlePad: 0.1 };
const unityLine = [{ x: logMin, y: logMin }, { x: logMax, y: logMax }];

makePanel('c1', Object.assign({}, logX, logY, leftCol, topRow, {
    xTitle: 'Population Prediction, pg/mL', xShift: 7, yTitle: 'AMG103 serum concentration, pg/mL',
    datasets: [pointSet(adultName, popObsAdult, adultColor, 2), pointSet(pedName, popObsPed, pedColor, 1), refLine(unityLine, 1.4)]
}));
makePanel('c2', Object.assign({}, logX, logY, rightCol, topRow, {
    xTitle: 'Individual Prediction, pg/mL', xShift: 7, yTitle: 'AMG103 serum concentration, pg/mL', legend: true,
    datasets: [pointSet(adultName, indObsAdult, adultColor, 2), pointSet(pedName, indObsPed, pedColor, 1), refLine(unityLine, 1.4)]
}));
makePanel('c3', Object.assign({}, logX, resY, leftCol, botRow, {
    xTitle: 'Population Prediction, pg/mL', xShift: 7,
    datasets: [pointSet(adultName, popResAdult, adultColor, 2), pointSet(pedName, popResPed, pedColor, 1),
        refLine([{ x: logMin, y: 0 }, { x: logMax, y: 0 }], 2)]
}));
makePanel('c4', Object.assign({}, resY, rightCol, botRow, {
    xType: 'linear', xMin: -3.58, xMax: 93.8, xTicks: timeTicks, xLabels: timeTicks,
    xTitle: 'Time, days', xShift: 2,
    datasets: [pointSet(adultName, timeResAdult, adultColor, 2), pointSet(pedName, timeResPed, pedColor, 1),
        refLine([{ x: -3.58, y: 0 }, { x: 93.8, y: 0 }], 2)]
}));
</script>
</body>
</html>
